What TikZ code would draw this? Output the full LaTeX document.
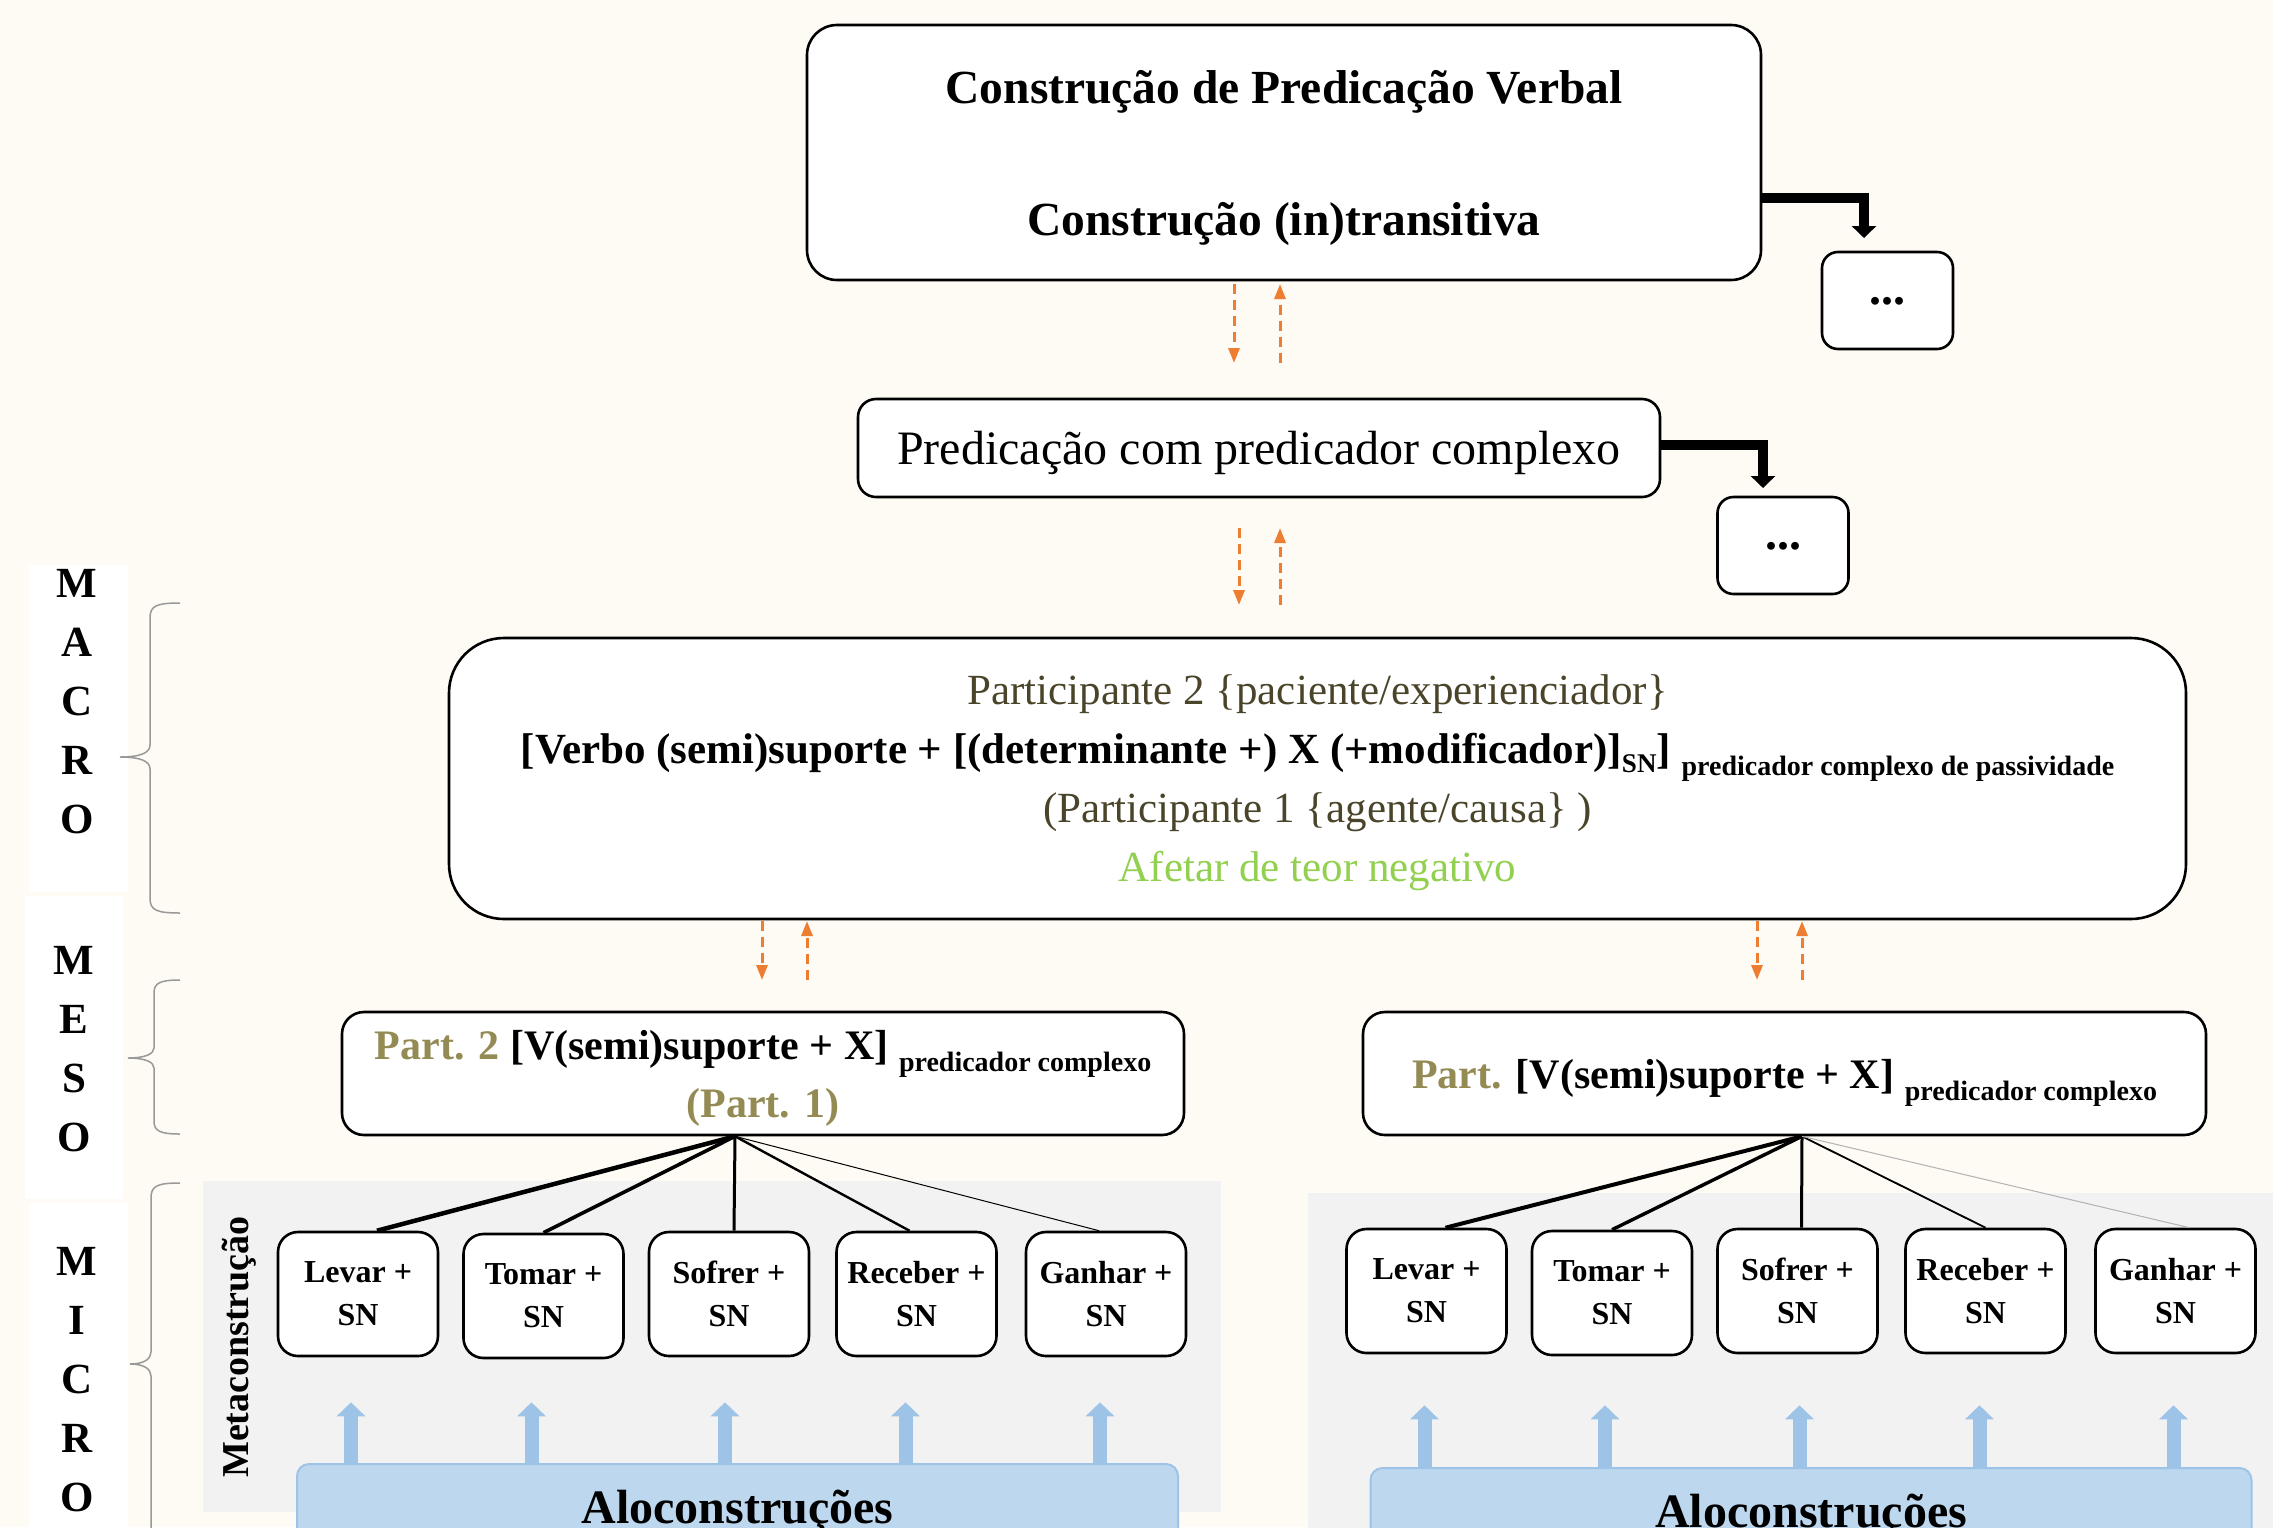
\documentclass[tikz,border=0pt]{standalone}
\usepackage{fontspec}
\setmainfont{Liberation Serif}
\usetikzlibrary{calc}
\usetikzlibrary{arrows.meta}
\definecolor{bgcream}{HTML}{FEFAF4}
\definecolor{panelgray}{HTML}{F2F2F2}
\definecolor{arrorange}{HTML}{ED7D31}
\definecolor{aloblue}{HTML}{BDD7EE}
\definecolor{arrblue}{HTML}{9DC3E6}
\definecolor{oliveA}{HTML}{4A452A}
\definecolor{oliveB}{HTML}{948A54}
\definecolor{greenA}{HTML}{92D050}
\tikzset{
    mybox/.style={
        draw=black,          % 黑色边框
        line width=2.6,
        fill=white,
        rounded corners=26,  % 圆角
        inner sep=0,
        text depth=0,
        align=center
    },
    microbox/.style={mybox, rounded corners=20, minimum width=160, minimum height=124,
        font=\bfseries\fontsize{32}{43}\selectfont},
    dotsbox/.style={mybox, rounded corners=16, minimum width=131, minimum height=97,
        font=\bfseries\fontsize{48}{48}\selectfont},
    alobox/.style={fill=aloblue, draw=arrblue, line width=2, rounded corners=12,
        minimum width=881, minimum height=96, inner sep=0,
        font=\bfseries\fontsize{48}{48}\selectfont},
    lvltext/.style={align=center, inner sep=0, font=\bfseries\fontsize{43}{59}\selectfont},
    bracestyle/.style={draw=gray!80, line width=1.5},
    dasharrow/.style={arrorange, line width=3, dash pattern=on 10pt off 6pt,
        -{Triangle[length=15pt, width=11pt]}},
    elbowarrow/.style={black, line width=10, -{Triangle[length=12pt, width=24pt]}},
    bluearrow/.style={arrblue, line width=14, -{Triangle[length=14pt, width=28pt]}}
}

\begin{document}
\begin{tikzpicture}[x=1pt, y=-1pt]

\def\lowtext#1{\raisebox{-12pt}{\fontsize{28}{28}\selectfont #1}}
\def\yL{1294}
\def\yR{1291}

% 背景
\useasboundingbox (0,0) rectangle (2273,1527);
\fill[bgcream] (0,0) rectangle (2273,1527);

% 左侧标签
\fill[white] (29,565) rectangle (128,892);
\fill[white] (25,896) rectangle (123,1199);
\fill[white] (29,1203) rectangle (128,1540);
\node[lvltext] (T1) at (77,702) {M\\A\\C\\R\\O};
\node[lvltext] (T2) at (74,1049) {M\\E\\S\\O};
\node[lvltext] (T3) at (77,1380) {M\\I\\C\\R\\O};

\draw[bracestyle] (180,603) .. controls (156,603) and (150,606) .. (150,618) -- (150,745)
    .. controls (150,753) and (140,757) .. (120,757) .. controls (140,757) and (150,761) .. (150,769)
    -- (150,898) .. controls (150,910) and (156,913) .. (180,913);
\draw[bracestyle] (180,980) .. controls (160,980) and (154,983) .. (154,993) -- (154,1048)
    .. controls (154,1054) and (145,1058) .. (128,1058) .. controls (145,1058) and (154,1062) .. (154,1068)
    -- (154,1121) .. controls (154,1131) and (160,1134) .. (180,1134);
\draw[bracestyle] (180,1183) .. controls (157,1183) and (151,1186) .. (151,1198) -- (151,1352)
    .. controls (151,1359) and (144,1364) .. (130,1364) .. controls (144,1364) and (151,1369) .. (151,1376)
    -- (151,1560);

% 灰色区域
\fill[panelgray] (203,1181) rectangle (1221,1512);
\fill[panelgray] (1308,1193) rectangle (2273,1540);
\node[rotate=90, inner sep=0, font=\bfseries\fontsize{38}{38}\selectfont] (MC) at (239,1347) {Metaconstrução};

% 上层
\node[mybox, rounded corners=30, minimum width=954, minimum height=255,
      font=\bfseries\fontsize{47.5}{132}\selectfont] (B1) at (1284,152.5)
      {Construção de Predicação Verbal\\Construção (in)transitiva};
\node[dotsbox] (E1) at (1887.5,300.5) {...};
\node[mybox, rounded corners=18, minimum width=802, minimum height=98,
      font=\fontsize{48}{50}\selectfont] (B2) at (1259,448) {Predicação com predicador complexo};
\node[dotsbox] (E2) at (1783,545.5) {...};

\coordinate (K1) at (1864,238);
\coordinate (K2) at (1763,488);
\draw[elbowarrow] ([yshift=-45.5]B1.east) -| (K1);
\draw[elbowarrow] ([yshift=3]B2.east) -| (K2);

\node[mybox, rounded corners=55, minimum width=1737, minimum height=281,
      font=\fontsize{43}{59}\selectfont] (B3) at (1317.5,778.5)
      {{\color{oliveA}Participante 2 \{paciente/experienciador\}}\\
       {\bfseries\fontsize{43}{59}\selectfont [Verbo (semi)suporte + [(determinante +) X (+modificador)]\raisebox{-9pt}{\fontsize{27}{27}\selectfont SN}] \lowtext{predicador complexo de passividade}}\\
       {\color{oliveA}(Participante 1 \{agente/causa\} )}\\
       {\color{greenA}Afetar de teor negativo}};

% 虚线箭头
\coordinate (D1) at (1234,284);
\coordinate (D2) at (1234,363);
\coordinate (D3) at (1280,363);
\coordinate (D4) at (1280,284);
\coordinate (D5) at (1239,528);
\coordinate (D6) at (1239,605);
\coordinate (D7) at (1280,605);
\coordinate (D8) at (1280,528);
\coordinate (D9) at (762,921);
\coordinate (D10) at (762,980);
\coordinate (D11) at (807,980);
\coordinate (D12) at (807,921);
\coordinate (D13) at (1757,921);
\coordinate (D14) at (1757,980);
\coordinate (D15) at (1802,980);
\coordinate (D16) at (1802,921);
\draw[dasharrow] (D1) -- (D2);
\draw[dasharrow] (D3) -- (D4);
\draw[dasharrow] (D5) -- (D6);
\draw[dasharrow] (D7) -- (D8);
\draw[dasharrow] (D9) -- (D10);
\draw[dasharrow] (D11) -- (D12);
\draw[dasharrow] (D13) -- (D14);
\draw[dasharrow] (D15) -- (D16);

% 中层
\node[mybox, rounded corners=22, minimum width=842, minimum height=123,
      font=\bfseries\fontsize{42}{58}\selectfont] (M1) at (763,1073.5)
      {{\color{oliveB}Part. 2} [V(semi)suporte + X] \lowtext{predicador complexo}\\{\color{oliveB}(Part. 1)}};
\node[mybox, rounded corners=22, minimum width=843, minimum height=123,
      font=\bfseries\fontsize{42}{58}\selectfont] (M2) at (1784.5,1073.5)
      {{\color{oliveB}Part.} [V(semi)suporte + X] \lowtext{predicador complexo}};

% 下层
\node[microbox] (L1) at (358,\yL) {Levar +\\SN};
\node[microbox] (L2) at (543.5,\yL+2) {Tomar +\\SN};
\node[microbox] (L3) at (729,\yL) {Sofrer +\\SN};
\node[microbox] (L4) at (916.5,\yL) {Receber +\\SN};
\node[microbox] (L5) at (1106,\yL) {Ganhar +\\SN};

\node[microbox] (R1) at (1426.5,\yR) {Levar +\\SN};
\node[microbox] (R2) at (1612,\yR+2) {Tomar +\\SN};
\node[microbox] (R3) at (1797.5,\yR) {Sofrer +\\SN};
\node[microbox] (R4) at (1985.5,\yR) {Receber +\\SN};
\node[microbox] (R5) at (2175.5,\yR) {Ganhar +\\SN};

\draw[line width=4.5] ([xshift=-28]M1.south) -- ([xshift=19]L1.north);
\draw[line width=3.6] ([xshift=-28]M1.south) -- (L2.north);
\draw[line width=3] ([xshift=-28]M1.south) -- ([xshift=5]L3.north);
\draw[line width=2.4] ([xshift=-28]M1.south) -- ([xshift=-7]L4.north);
\draw[line width=1] ([xshift=-28]M1.south) -- ([xshift=-7]L5.north);

\draw[line width=4] ([xshift=17.5]M2.south) -- ([xshift=19]R1.north);
\draw[line width=3.4] ([xshift=17.5]M2.south) -- (R2.north);
\draw[line width=3] ([xshift=17.5]M2.south) -- ([xshift=4]R3.north);
\draw[line width=1.8] ([xshift=17.5]M2.south) -- (R4.north);
\draw[line width=1, gray!60] ([xshift=17.5]M2.south) -- ([xshift=14]R5.north);

% 蓝色箭头
\node[alobox] (AL1) at (737.5,1512) {Aloconstruções};
\node[alobox] (AL2) at (1811,1516) {Aloconstruções};

\draw[bluearrow] ($(L1.south |- AL1.north)+(-7,0)$) -- ($(L1.south)+(-7,45)$);
\draw[bluearrow] ($(L2.south |- AL1.north)+(-12,0)$) -- ($(L2.south)+(-12,43)$);
\draw[bluearrow] ($(L3.south |- AL1.north)+(-4,0)$) -- ($(L3.south)+(-4,45)$);
\draw[bluearrow] ($(L4.south |- AL1.north)+(-11,0)$) -- ($(L4.south)+(-11,45)$);
\draw[bluearrow] ($(L5.south |- AL1.north)+(-6,0)$) -- ($(L5.south)+(-6,45)$);

\draw[bluearrow] ($(R1.south |- AL2.north)+(-2,0)$) -- ($(R1.south)+(-2,51)$);
\draw[bluearrow] ($(R2.south |- AL2.north)+(-7,0)$) -- ($(R2.south)+(-7,49)$);
\draw[bluearrow] ($(R3.south |- AL2.north)+(2,0)$) -- ($(R3.south)+(2,51)$);
\draw[bluearrow] ($(R4.south |- AL2.north)+(-6,0)$) -- ($(R4.south)+(-6,51)$);
\draw[bluearrow] ($(R5.south |- AL2.north)+(-2,0)$) -- ($(R5.south)+(-2,51)$);

\end{tikzpicture}
\end{document}
